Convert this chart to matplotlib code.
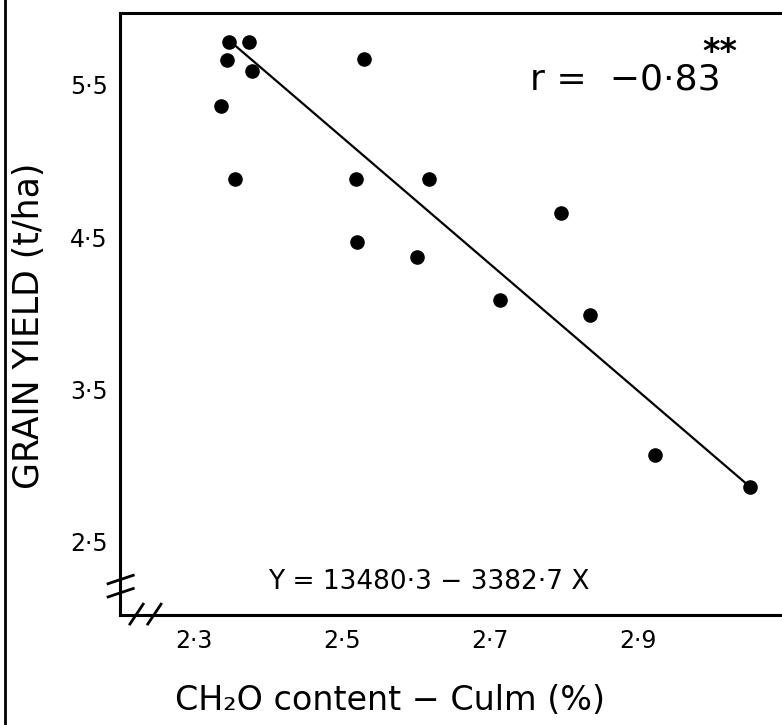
import matplotlib
matplotlib.use('Agg')
import matplotlib.pyplot as plt
from matplotlib.lines import Line2D

# data
culm_ch2o = [2.347, 2.374, 2.345, 2.378, 2.337, 2.355, 2.530, 2.519, 2.520,
             2.617, 2.601, 2.795, 2.713, 2.835, 2.923, 3.051]
grain_yield = [5.78, 5.78, 5.66, 5.59, 5.36, 4.88, 5.67, 4.88, 4.47,
               4.88, 4.37, 4.66, 4.09, 3.99, 3.07, 2.86]
fit_x = [2.357, 3.051]
fit_y = [5.75, 2.86]

xticks = [2.3, 2.5, 2.7, 2.9]
xtick_labels = ['2·3', '2·5', '2·7', '2·9']
yticks = [2.5, 3.5, 4.5, 5.5]
ytick_labels = ['2·5', '3·5', '4·5', '5·5']

plt.rcParams['font.family'] = ['Liberation Sans Narrow', 'DejaVu Sans']

fig = plt.figure(figsize=(7.82, 7.25), dpi=100)
ax = fig.add_axes([120/782, 1-615/725, 1-120/782, (615-13)/725])

ax.scatter(culm_ch2o, grain_yield, s=90, color='black', zorder=3)
ax.plot(fit_x, fit_y, color='black', lw=1.6)

ax.set_xlim(2.2, 3.094)
ax.set_ylim(2.02, 5.97)
ax.set_xticks(xticks)
ax.set_xticklabels(xtick_labels)
ax.set_yticks(yticks)
ax.set_yticklabels(ytick_labels)
ax.tick_params(length=0, labelsize=17)
ax.tick_params(axis='x', pad=10)
ax.tick_params(axis='y', pad=9)

for s in ['left', 'top', 'bottom']:
    ax.spines[s].set_linewidth(2.2)
ax.spines['right'].set_visible(False)

# axis break marks
kw = dict(transform=ax.transAxes, color='black', lw=2, clip_on=False)
ax.plot([-0.018, 0.02], [0.052, 0.066], **kw)
ax.plot([-0.018, 0.02], [0.030, 0.044], **kw)
ax.plot([0.015, 0.035], [-0.015, 0.018], **kw)
ax.plot([0.042, 0.062], [-0.015, 0.018], **kw)

# annotations
ax.text(0.619, 0.889, 'r =  −0·83', transform=ax.transAxes, fontsize=26,
        ha='left', va='center')
ax.text(0.88, 0.935, '**', transform=ax.transAxes, fontsize=24,
        ha='left', va='center', fontweight='bold')
ax.text(0.2236, 0.055, 'Y = 13480·3 − 3382·7 X', transform=ax.transAxes,
        fontsize=19, ha='left', va='center')

fig.text(29/782, 1-326/725, 'GRAIN YIELD (t/ha)', rotation=90,
         fontsize=25, ha='center', va='center')
fig.text(390/782, 1-700/725, 'CH₂O content − Culm (%)',
         fontsize=24, ha='center', va='center')

# scan border on the left edge
fig.add_artist(Line2D([0.006, 0.006], [0, 1], transform=fig.transFigure,
                      color='black', lw=2))

fig.savefig('out.png', dpi=100)
